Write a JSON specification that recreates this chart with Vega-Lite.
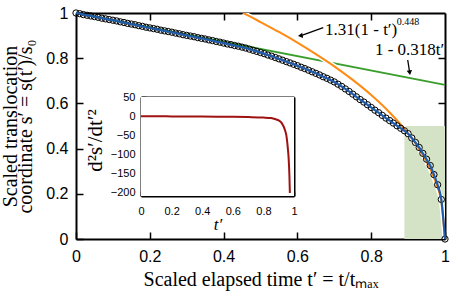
{
"$schema":"https://vega.github.io/schema/vega-lite/v6.json",
"width":369,"height":226,
"autosize":{"type":"none"},
"padding":{"left":76,"top":13,"right":5,"bottom":55},
"background":"white",
"config":{
 "view":{"stroke":null},
 "axis":{"labelFont":"Liberation Sans","labelColor":"#000","tickColor":"#000","domainColor":"#000","domainWidth":2,"tickWidth":1.5,"titleFont":"Liberation Serif","titleFontWeight":"normal","titleColor":"#000","grid":false,"labelFlush":false,"labelOverlap":false,"zindex":1}
},
"datasets":{
 "shade":[{"x0":0.89,"x1":1,"y0":0,"y1":0.5}],
 "green":[{"t":0,"f":1},{"t":1,"f":0.682}],
 "orange":[{"t":0.453,"f":1.0},{"t":0.47,"f":0.986},{"t":0.5,"f":0.96},{"t":0.55,"f":0.916},{"t":0.6,"f":0.869},{"t":0.65,"f":0.818},{"t":0.7,"f":0.764},{"t":0.75,"f":0.704},{"t":0.8,"f":0.637},{"t":0.85,"f":0.56},{"t":0.88,"f":0.507},{"t":0.9,"f":0.467},{"t":0.92,"f":0.423},{"t":0.94,"f":0.371},{"t":0.96,"f":0.31},{"t":0.98,"f":0.227},{"t":0.99,"f":0.167},{"t":1.0,"f":0}],
 "s":[{"t":0,"s":1},{"t":0.01,"s":0.997},{"t":0.02,"s":0.993},{"t":0.03,"s":0.99},{"t":0.04,"s":0.987},{"t":0.05,"s":0.984},{"t":0.06,"s":0.981},{"t":0.07,"s":0.977},{"t":0.08,"s":0.974},{"t":0.09,"s":0.971},{"t":0.1,"s":0.968},{"t":0.11,"s":0.965},{"t":0.12,"s":0.961},{"t":0.13,"s":0.958},{"t":0.14,"s":0.954},{"t":0.15,"s":0.951},{"t":0.16,"s":0.948},{"t":0.17,"s":0.944},{"t":0.18,"s":0.941},{"t":0.19,"s":0.937},{"t":0.2,"s":0.934},{"t":0.21,"s":0.931},{"t":0.22,"s":0.928},{"t":0.23,"s":0.924},{"t":0.24,"s":0.921},{"t":0.25,"s":0.918},{"t":0.26,"s":0.915},{"t":0.27,"s":0.911},{"t":0.28,"s":0.908},{"t":0.29,"s":0.904},{"t":0.3,"s":0.901},{"t":0.31,"s":0.898},{"t":0.32,"s":0.895},{"t":0.33,"s":0.891},{"t":0.34,"s":0.888},{"t":0.35,"s":0.885},{"t":0.36,"s":0.881},{"t":0.37,"s":0.878},{"t":0.38,"s":0.874},{"t":0.39,"s":0.871},{"t":0.4,"s":0.867},{"t":0.41,"s":0.863},{"t":0.42,"s":0.86},{"t":0.43,"s":0.856},{"t":0.44,"s":0.853},{"t":0.45,"s":0.849},{"t":0.46,"s":0.845},{"t":0.47,"s":0.84},{"t":0.48,"s":0.835},{"t":0.49,"s":0.83},{"t":0.5,"s":0.825},{"t":0.51,"s":0.82},{"t":0.52,"s":0.814},{"t":0.53,"s":0.809},{"t":0.54,"s":0.803},{"t":0.55,"s":0.797},{"t":0.56,"s":0.791},{"t":0.57,"s":0.785},{"t":0.58,"s":0.779},{"t":0.59,"s":0.773},{"t":0.6,"s":0.767},{"t":0.61,"s":0.76},{"t":0.62,"s":0.754},{"t":0.63,"s":0.747},{"t":0.64,"s":0.74},{"t":0.65,"s":0.733},{"t":0.66,"s":0.726},{"t":0.67,"s":0.718},{"t":0.68,"s":0.711},{"t":0.69,"s":0.703},{"t":0.7,"s":0.695},{"t":0.71,"s":0.685},{"t":0.72,"s":0.675},{"t":0.73,"s":0.664},{"t":0.74,"s":0.653},{"t":0.75,"s":0.641},{"t":0.76,"s":0.629},{"t":0.77,"s":0.617},{"t":0.78,"s":0.606},{"t":0.79,"s":0.594},{"t":0.8,"s":0.582},{"t":0.81,"s":0.57},{"t":0.82,"s":0.559},{"t":0.83,"s":0.547},{"t":0.84,"s":0.535},{"t":0.85,"s":0.524},{"t":0.86,"s":0.513},{"t":0.87,"s":0.501},{"t":0.88,"s":0.49},{"t":0.89,"s":0.479},{"t":0.9,"s":0.466},{"t":0.91,"s":0.447},{"t":0.92,"s":0.427},{"t":0.93,"s":0.405},{"t":0.94,"s":0.379},{"t":0.95,"s":0.353},{"t":0.96,"s":0.325},{"t":0.97,"s":0.285},{"t":0.98,"s":0.24},{"t":0.99,"s":0.175},{"t":1.0,"s":0}],
 "inset":[{"t":0,"d":0},{"t":0.1,"d":-0.3},{"t":0.2,"d":-0.5},{"t":0.3,"d":-0.7},{"t":0.4,"d":-0.9},{"t":0.5,"d":-1.2},{"t":0.6,"d":-1.6},{"t":0.7,"d":-2.3},{"t":0.8,"d":-3.5},{"t":0.85,"d":-5},{"t":0.88,"d":-8},{"t":0.9,"d":-11},{"t":0.92,"d":-18},{"t":0.94,"d":-35},{"t":0.95,"d":-50},{"t":0.96,"d":-85},{"t":0.965,"d":-110},{"t":0.97,"d":-155},{"t":0.973,"d":-200}],
 "insetbox":[{"x0":0,"x1":1,"y0":-208,"y1":50}],
 "lab1":[{"t":0.675,"s":0.925,"text":"1.31(1 - t′)"}],
 "lab1sup":[{"t":0.869,"s":0.961,"text":"0.448"}],
 "lab2":[{"t":0.81,"s":0.836,"text":"1 - 0.318t′"}],
 "arrows":[{"t":0.67,"s":0.935,"t2":0.61,"s2":0.9},{"t":0.899,"s":0.792,"t2":0.904,"s2":0.739}],
 "head1":[{"t":0.61,"s":0.9}],
 "head2":[{"t":0.904,"s":0.739}]
},
"resolve":{"scale":{"x":"independent","y":"independent"},"axis":{"x":"independent","y":"independent"}},
"layer":[
 {"data":{"name":"shade"},"mark":{"type":"rect","color":"#d4e2c6"},
  "encoding":{
   "x":{"field":"x0","type":"quantitative","scale":{"domain":[0,1],"nice":false,"zero":false},"axis":{"orient":"bottom","values":[0,0.2,0.4,0.6,0.8,1],"format":"~g","tickSize":-7,"labelPadding":16,"labelFontSize":16,"title":"Scaled elapsed time t′ = t/tₘₐₓ","titleFontSize":20,"titleX":184.5,"titleY":46,"titleBaseline":"alphabetic","titleAlign":"center"}},
   "x2":{"field":"x1"},
   "y":{"field":"y0","type":"quantitative","scale":{"domain":[0,1],"nice":false,"zero":false},"axis":{"orient":"left","values":[0,0.2,0.4,0.6,0.8,1],"format":"~g","tickSize":-7,"labelPadding":15,"labelFontSize":16,"title":["Scaled translocation","coordinate s′ = s(t′)/s₀"],"titleFontSize":20,"titleLineHeight":15,"titleX":-60,"titleY":113,"titleBaseline":"alphabetic","titleAlign":"center","titleAngle":270}},
   "y2":{"field":"y1"}
  }},
 {"data":{"name":"green"},"mark":{"type":"line","color":"#3a9e2c","strokeWidth":2},
  "encoding":{
   "x":{"field":"t","type":"quantitative","scale":{"domain":[0,1],"nice":false,"zero":false},"axis":{"orient":"top","values":[0.2,0.4,0.6,0.8],"labels":false,"tickSize":-7,"title":null}},
   "y":{"field":"f","type":"quantitative","scale":{"domain":[0,1],"nice":false,"zero":false},"axis":{"orient":"right","values":[0.2,0.4,0.6,0.8],"labels":false,"tickSize":-7,"title":null}}
  }},
 {"data":{"name":"orange"},"mark":{"type":"line","color":"white","strokeWidth":5,"interpolate":"monotone","clip":true},
  "encoding":{
   "x":{"field":"t","type":"quantitative","scale":{"domain":[0,1],"nice":false,"zero":false},"axis":null},
   "y":{"field":"f","type":"quantitative","scale":{"domain":[0,1],"nice":false,"zero":false},"axis":null}
  }},
 {"data":{"name":"orange"},"mark":{"type":"line","color":"#ff8a14","strokeWidth":2,"interpolate":"monotone","clip":true},
  "encoding":{
   "x":{"field":"t","type":"quantitative","scale":{"domain":[0,1],"nice":false,"zero":false},"axis":null},
   "y":{"field":"f","type":"quantitative","scale":{"domain":[0,1],"nice":false,"zero":false},"axis":null}
  }},
 {"data":{"name":"s"},"mark":{"type":"point","shape":"circle","filled":false,"color":"#000","size":40,"strokeWidth":1,"opacity":1},
  "encoding":{
   "x":{"field":"t","type":"quantitative","scale":{"domain":[0,1],"nice":false,"zero":false},"axis":null},
   "y":{"field":"s","type":"quantitative","scale":{"domain":[0,1],"nice":false,"zero":false},"axis":null}
  }},
 {"data":{"name":"s"},"mark":{"type":"line","color":"#1f5cab","strokeWidth":2.2,"interpolate":"monotone"},
  "encoding":{
   "x":{"field":"t","type":"quantitative","scale":{"domain":[0,1],"nice":false,"zero":false},"axis":null},
   "y":{"field":"s","type":"quantitative","scale":{"domain":[0,1],"nice":false,"zero":false},"axis":null}
  }},
 {"data":{"name":"lab1"},"mark":{"type":"text","font":"Liberation Serif","fontSize":17,"align":"left","baseline":"middle","color":"#000"},
  "encoding":{
   "x":{"field":"t","type":"quantitative","scale":{"domain":[0,1],"nice":false,"zero":false},"axis":null},
   "y":{"field":"s","type":"quantitative","scale":{"domain":[0,1],"nice":false,"zero":false},"axis":null},
   "text":{"field":"text"}
  }},
 {"data":{"name":"lab1sup"},"mark":{"type":"text","font":"Liberation Serif","fontSize":10,"align":"left","baseline":"middle","color":"#000"},
  "encoding":{
   "x":{"field":"t","type":"quantitative","scale":{"domain":[0,1],"nice":false,"zero":false},"axis":null},
   "y":{"field":"s","type":"quantitative","scale":{"domain":[0,1],"nice":false,"zero":false},"axis":null},
   "text":{"field":"text"}
  }},
 {"data":{"name":"lab2"},"mark":{"type":"text","font":"Liberation Serif","fontSize":17,"align":"left","baseline":"middle","color":"#000"},
  "encoding":{
   "x":{"field":"t","type":"quantitative","scale":{"domain":[0,1],"nice":false,"zero":false},"axis":null},
   "y":{"field":"s","type":"quantitative","scale":{"domain":[0,1],"nice":false,"zero":false},"axis":null},
   "text":{"field":"text"}
  }},
 {"data":{"name":"arrows"},"mark":{"type":"rule","color":"#000","strokeWidth":1.3},
  "encoding":{
   "x":{"field":"t","type":"quantitative","scale":{"domain":[0,1],"nice":false,"zero":false},"axis":null},
   "y":{"field":"s","type":"quantitative","scale":{"domain":[0,1],"nice":false,"zero":false},"axis":null},
   "x2":{"field":"t2"},
   "y2":{"field":"s2"}
  }},
 {"data":{"name":"head1"},"mark":{"type":"point","shape":"triangle","filled":true,"color":"#000","size":30,"angle":260.5,"opacity":1},
  "encoding":{
   "x":{"field":"t","type":"quantitative","scale":{"domain":[0,1],"nice":false,"zero":false},"axis":null},
   "y":{"field":"s","type":"quantitative","scale":{"domain":[0,1],"nice":false,"zero":false},"axis":null}
  }},
 {"data":{"name":"head2"},"mark":{"type":"point","shape":"triangle","filled":true,"color":"#000","size":30,"angle":171,"opacity":1},
  "encoding":{
   "x":{"field":"t","type":"quantitative","scale":{"domain":[0,1],"nice":false,"zero":false},"axis":null},
   "y":{"field":"s","type":"quantitative","scale":{"domain":[0,1],"nice":false,"zero":false},"axis":null}
  }},
 {"data":{"name":"insetbox"},"mark":{"type":"rect","color":"white"},
  "encoding":{
   "x":{"field":"x0","type":"quantitative","scale":{"domain":[0,1],"range":[65,218],"nice":false,"zero":false},"axis":{"orient":"bottom","offset":-43,"values":[0,0.2,0.4,0.6,0.8,1],"format":"~g","tickSize":-5,"labelPadding":14,"labelFontSize":11,"title":"t′","titleFont":"Liberation Serif","titleFontStyle":"italic","titleFontSize":17,"titleX":141.5,"titleY":33,"titleBaseline":"alphabetic","titleAlign":"center"}},
   "x2":{"field":"x1"},
   "y":{"field":"y0","type":"quantitative","scale":{"domain":[-208,50],"range":[183,84],"nice":false,"zero":false},"axis":{"orient":"left","offset":-65,"values":[-200,-150,-100,-50,0,50],"format":"d","tickSize":-5,"labelPadding":11,"labelFontSize":11,"title":"d²s′/dt′²","titleFontSize":21,"titleX":-46,"titleY":127,"titleBaseline":"middle","titleAlign":"center","titleAngle":270}},
   "y2":{"field":"y1"}
  }},
 {"data":{"name":"inset"},"mark":{"type":"line","color":"#a01212","strokeWidth":2,"interpolate":"monotone"},
  "encoding":{
   "x":{"field":"t","type":"quantitative","scale":{"domain":[0,1],"range":[65,218],"nice":false,"zero":false},"axis":{"orient":"top","offset":-84,"values":[0.2,0.4,0.6,0.8],"labels":false,"tickSize":-5,"title":null}},
   "y":{"field":"d","type":"quantitative","scale":{"domain":[-208,50],"range":[183,84],"nice":false,"zero":false},"axis":{"orient":"right","offset":-151,"values":[-150,-100,-50,0],"labels":false,"tickSize":-5,"title":null}}
  }}
]
}
